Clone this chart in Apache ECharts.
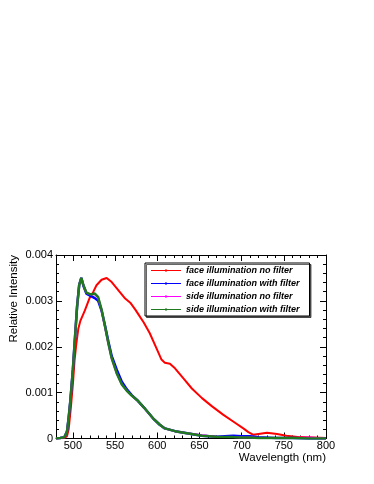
<!DOCTYPE html>
<html>
<head>
<meta charset="utf-8">
<script src="https://cdn.jsdelivr.net/npm/echarts@6/dist/echarts.min.js"></script>
<style>
  html, body { margin: 0; padding: 0; background: #fff; }
  #myChart { width: 374px; height: 484px; }
</style>
</head>
<body>
<div id="myChart"></div>
<script>
// wavelengths (nm) and relative intensity
var redWl = [480, 490, 493, 495, 497.5, 500, 502, 504, 506.5, 509, 514, 520, 524, 528, 534, 540, 546, 554, 562, 568, 574, 580, 584, 591, 599, 605, 609, 615, 621, 631, 641, 653, 665, 678, 690, 702, 708, 714, 720, 730, 742, 753, 769, 785, 800];
var faceNoFilter = [0, 0.00001, 0.00005, 0.0002, 0.00065, 0.00118, 0.0017, 0.00205, 0.0024, 0.00257, 0.00278, 0.00307, 0.00319, 0.00334, 0.00346, 0.0035, 0.00341, 0.00323, 0.00305, 0.00296, 0.00281, 0.00264, 0.00253, 0.0023, 0.00197, 0.00172, 0.00165, 0.00163, 0.00153, 0.00131, 0.00109, 0.00088, 0.0007, 0.00052, 0.00037, 0.00022, 0.00014, 0.00008, 0.0001, 0.000126, 0.0001, 0.00006, 0.00003, 0.00002, 0.00001];

var filterWl = [480, 485, 490, 493, 495, 497, 500, 502.5, 505, 507.5, 510, 512.5, 516, 521, 526, 530, 534, 538, 542, 546, 552, 558, 564, 570, 576, 584, 595, 603, 609, 621, 637, 653, 670, 690, 700, 710, 720, 740, 760, 780, 800];
var faceWithFilter = [0, 0.00001, 0.00003, 0.00015, 0.00045, 0.00082, 0.0015, 0.0022, 0.00288, 0.00335, 0.0035, 0.00333, 0.00316, 0.00311, 0.00306, 0.003, 0.00279, 0.00247, 0.00212, 0.0018, 0.0015, 0.00124, 0.00107, 0.00094, 0.00084, 0.00068, 0.00044, 0.0003, 0.00022, 0.00016, 0.00011, 0.00006, 0.00004, 0.00006, 0.00005, 0.00005, 0.00003, 0.00001, 0.00001, 0, 0];
var sideNoFilter = [0, 0.00001, 0.00003, 0.00015, 0.00045, 0.00082, 0.0015, 0.0022, 0.00288, 0.00335, 0.0035, 0.00334, 0.00318, 0.00314, 0.00315, 0.00307, 0.0028, 0.00244, 0.00207, 0.00174, 0.00142, 0.00118, 0.00104, 0.00093, 0.00084, 0.00068, 0.00044, 0.0003, 0.00022, 0.00016, 0.00011, 0.00007, 0.00004, 0.00003, 0.00002, 0.00002, 0.00001, 0.00001, 0.00001, 0.00002, 0];
var sideWithFilter = [0, 0.00001, 0.00003, 0.00015, 0.00045, 0.00082, 0.0015, 0.0022, 0.00288, 0.00335, 0.0035, 0.00334, 0.00318, 0.00314, 0.00316, 0.00308, 0.00281, 0.00245, 0.00208, 0.00175, 0.00142, 0.00118, 0.00104, 0.00093, 0.00084, 0.00068, 0.00044, 0.0003, 0.00022, 0.00016, 0.00011, 0.00006, 0.00004, 0.00003, 0.00002, 0.00002, 0.00001, 0.00001, 0.00001, 0, 0];

var majorTicksX = [500, 550, 600, 650, 700, 750, 800];
var seriesNames = ['face illumination no filter', 'face illumination with filter', 'side illumination no filter', 'side illumination with filter'];

function pairs(xs, ys) {
    return xs.map(function (x, i) { return [x, ys[i]]; });
}

var font = "'Liberation Sans', Arial, Helvetica, sans-serif";
var black = '#000';
// thin line with a small dot, drawn in a 30x11 box (the zero-size corners fix the box)
var legendIcon = 'path://M0,0L0,0ZM30,11L30,11ZM0,5L30,5L30,6L0,6ZM14,4.5L16,4.5L16,6.5L14,6.5Z';

function xAxisBase(pos, major) {
    return {
        type: 'value', min: 480, max: 800, position: pos,
        interval: major ? undefined : 10,
        axisLine: { show: !major, lineStyle: { color: black, width: 1 } },
        axisTick: major
            ? { show: true, inside: true, length: 6, customValues: majorTicksX, lineStyle: { color: black } }
            : { show: true, inside: true, length: 3, lineStyle: { color: black } },
        axisLabel: (major && pos === 'bottom')
            ? { show: true, customValues: majorTicksX, color: black, fontSize: 11, fontFamily: font, margin: 2 }
            : { show: false },
        splitLine: { show: false }
    };
}

function yAxisBase(pos) {
    return {
        type: 'value', min: 0, max: 0.004, interval: 0.001, position: pos,
        axisLine: { show: true, lineStyle: { color: black, width: 1 } },
        axisTick: { show: true, inside: true, length: 6, lineStyle: { color: black } },
        minorTick: { show: true, splitNumber: 5, length: 3, lineStyle: { color: black } },
        axisLabel: pos === 'left'
            ? { show: true, color: black, fontSize: 11, fontFamily: font, margin: 3 }
            : { show: false },
        splitLine: { show: false }
    };
}

var myChart = echarts.init(document.getElementById('myChart'));

var option = {
    animation: false,
    backgroundColor: '#fff',
    grid: { left: 56, top: 255, width: 270, height: 183.5 },
    xAxis: [xAxisBase('bottom', false), xAxisBase('bottom', true), xAxisBase('top', false), xAxisBase('top', true)],
    yAxis: [yAxisBase('left'), yAxisBase('right')],
    legend: {
        orient: 'vertical',
        left: 145, top: 263,
        data: seriesNames,
        icon: legendIcon,
        itemWidth: 30, itemHeight: 11, itemGap: 2,
        padding: [2, 10, 1, 6],
        borderColor: black, borderWidth: 1,
        backgroundColor: '#fff',
        shadowColor: 'rgba(0,0,0,0.6)', shadowOffsetX: 1.5, shadowOffsetY: 1.5, shadowBlur: 0,
        textStyle: { fontSize: 9, fontStyle: 'italic', fontWeight: 'bold', fontFamily: font, color: black }
    },
    graphic: [
        {
            type: 'text', x: 13.5, y: 255, rotation: Math.PI / 2,
            style: { text: 'Relative Intensity', fontSize: 11.5, fontFamily: font, fill: black, align: 'right', verticalAlign: 'middle' }
        },
        {
            type: 'text', x: 326, y: 458,
            style: { text: 'Wavelength (nm)', fontSize: 11.5, fontFamily: font, fill: black, align: 'right', verticalAlign: 'middle' }
        }
    ],
    series: [
        { name: seriesNames[0], type: 'line', data: pairs(redWl, faceNoFilter), color: '#ff0000', lineStyle: { width: 2 }, symbol: 'none' },
        { name: seriesNames[1], type: 'line', data: pairs(filterWl, faceWithFilter), color: '#0000ff', lineStyle: { width: 2.5 }, symbol: 'none' },
        { name: seriesNames[2], type: 'line', data: pairs(filterWl, sideNoFilter), color: '#ff00ff', lineStyle: { width: 2 }, symbol: 'none' },
        { name: seriesNames[3], type: 'line', data: pairs(filterWl, sideWithFilter), color: '#1f7a1f', lineStyle: { width: 2.5 }, symbol: 'none' }
    ]
};

myChart.setOption(option);
window.addEventListener('resize', myChart.resize);
</script>
</body>
</html>
